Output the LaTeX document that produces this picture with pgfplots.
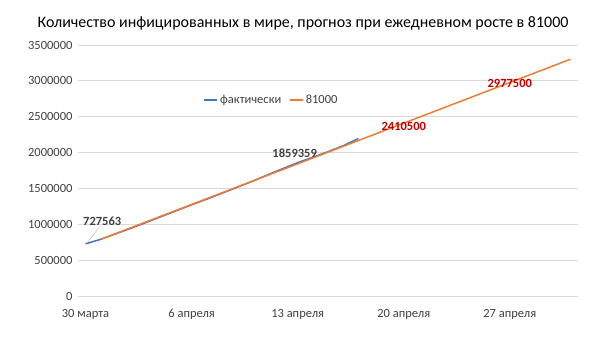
\documentclass[border=0pt]{standalone}
\usepackage{pgfplots}
\pgfplotsset{compat=1.18}
\usepackage{fontspec}
\setmainfont{Carlito}
\definecolor{xlblue}{HTML}{4472C4}
\definecolor{xlorange}{HTML}{ED7D31}
\definecolor{gridgray}{HTML}{D9D9D9}
\definecolor{txtgray}{HTML}{404040}
\definecolor{xlred}{HTML}{C00000}
\begin{document}
\begin{tikzpicture}[x=1pt,y=1pt]
\useasboundingbox (0,0) rectangle (610,355);
\node[font=\fontsize{16}{19}\selectfont, text=black] at (303,332) {Количество инфицированных в мире, прогноз при ежедневном росте в 81000};
\begin{axis}[
  at={(78pt,59pt)}, anchor=south west,
  scale only axis, width=500pt, height=251pt,
  xmin=-0.5, xmax=32.5, ymin=0, ymax=3500000,
  axis line style={draw=none},
  tick style={draw=none},
  ymajorgrids, grid style={gridgray, line width=0.8pt},
  ytick={0,500000,...,3500000},
  scaled y ticks=false,
  yticklabel style={/pgf/number format/fixed, /pgf/number format/1000 sep={}, font=\fontsize{12.5}{14}\selectfont, text=txtgray, xshift=-2pt},
  /pgf/number format/assume math mode=true,
  xtick={0,7,14,21,28},
  xticklabels={30 марта, 6 апреля, 13 апреля, 20 апреля, 27 апреля},
  xticklabel style={font=\fontsize{12.5}{14}\selectfont, text=txtgray, yshift=-10pt},
  legend style={at={(0.245,0.78)}, anchor=west, draw=none, fill=none,
    font=\fontsize{12.5}{14}\selectfont, text=txtgray, legend columns=2,
    /tikz/every even column/.append style={column sep=6pt}},
  legend image code/.code={\draw[#1, line width=1.5pt] (0pt,0pt) -- (13pt,0pt);},
  clip=false,
]
\addplot[xlblue, line width=1.5pt] coordinates {
(0,727563) (1,790500) (2,867000) (3,945000) (4,1025000) (5,1108000) (6,1190000)
(7,1272000) (8,1350000) (9,1432000) (10,1515000) (11,1600000) (12,1688000)
(13,1775000) (14,1859359) (15,1935000) (16,2012000) (17,2095000) (18,2195000)
};
\addlegendentry{фактически}
\addplot[xlorange, line width=1.5pt] coordinates {
(1,790500) (2,871500) (3,952500) (4,1033500) (5,1114500) (6,1195500) (7,1276500)
(8,1357500) (9,1438500) (10,1519500) (11,1600500) (12,1681500) (13,1762500)
(14,1843500) (15,1924500) (16,2005500) (17,2086500) (18,2167500) (19,2248500)
(20,2329500) (21,2410500) (22,2491500) (23,2572500) (24,2653500) (25,2734500)
(26,2815500) (27,2896500) (28,2977500) (29,3058500) (30,3139500) (31,3220500)
(32,3301500)
};
\addlegendentry{81000}
\draw[gray!60, line width=0.4pt] (axis cs:0.1,740000) -- (axis cs:0.9,960000);
\node[font=\bfseries\fontsize{12.5}{14}\selectfont, text=txtgray] at (axis cs:1.1,1040000) {727563};
\node[font=\bfseries\fontsize{12.5}{14}\selectfont, text=txtgray] at (axis cs:13.8,1990000) {1859359};
\node[font=\bfseries\fontsize{12.5}{14}\selectfont, text=xlred] at (axis cs:21,2370000) {2410500};
\node[font=\bfseries\fontsize{12.5}{14}\selectfont, text=xlred] at (axis cs:28,2960000) {2977500};
\end{axis}
\end{tikzpicture}
\end{document}
